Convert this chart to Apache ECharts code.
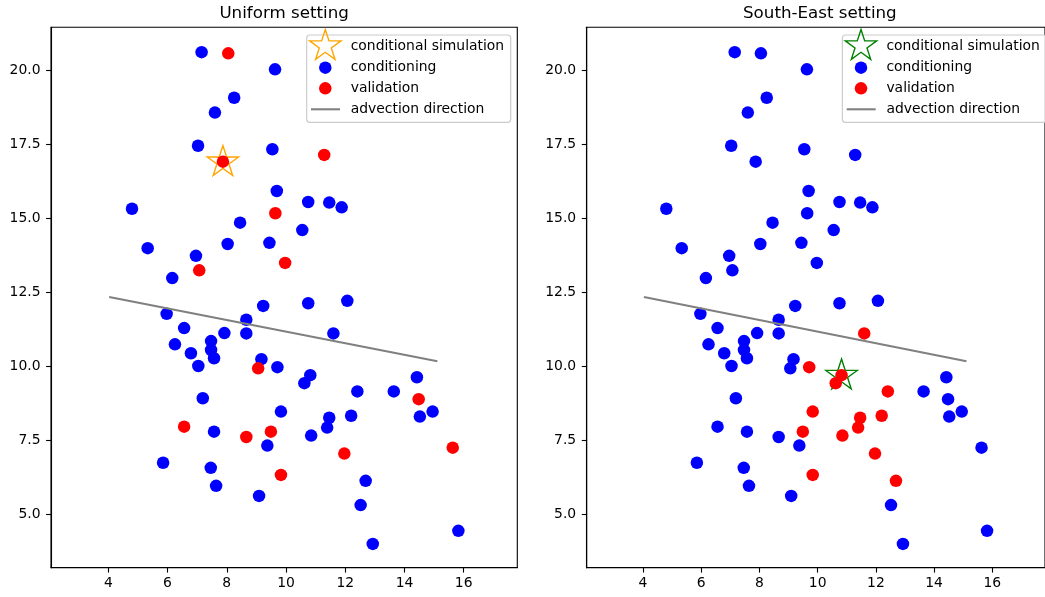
<!DOCTYPE html>
<html><head><meta charset="utf-8">
<script src="https://cdn.jsdelivr.net/npm/echarts@6/dist/echarts.min.js"></script>
<style>html,body{margin:0;padding:0;background:#fff}#c{width:1045px;height:597px}</style>
</head><body><div id="c"></div><script>
// ---- data ----
const xTicks = [4, 6, 8, 10, 12, 14, 16];
const yTicks = [5, 7.5, 10, 12.5, 15, 17.5, 20];
const panelTitles = ['Uniform setting', 'South-East setting'];
const legendLabels = ['conditional simulation', 'conditioning', 'validation', 'advection direction'];

const uniformStar = [[7.87, 16.89]];
const uniformConditioning = [
  [7.15,20.60],[9.63,20.02],[8.25,19.06],[7.60,18.56],[7.03,17.44],[9.54,17.32],[9.69,15.91],
  [4.80,15.31],[10.75,15.54],[11.46,15.52],[11.88,15.36],[8.45,14.84],[10.55,14.59],[5.33,13.98],
  [8.03,14.12],[9.44,14.16],[6.96,13.72],[6.16,12.97],[9.23,12.03],[10.75,12.12],[12.07,12.20],
  [5.97,11.76],[8.66,11.56],[6.56,11.28],[7.92,11.11],[8.66,11.10],[11.60,11.10],[6.25,10.73],
  [7.47,10.84],[7.47,10.54],[6.79,10.43],[7.57,10.26],[9.17,10.23],[7.04,10.00],[9.71,9.96],
  [10.82,9.69],[10.62,9.42],[7.19,8.91],[12.41,9.14],[13.64,9.14],[14.42,9.62],[14.95,8.46],
  [14.52,8.29],[9.83,8.46],[7.57,7.78],[9.37,7.31],[11.46,8.25],[11.39,7.92],[12.20,8.32],
  [10.85,7.65],[12.69,6.12],[5.85,6.73],[7.46,6.56],[7.64,5.95],[9.09,5.61],[12.52,5.30],
  [12.93,3.99],[15.82,4.43]
];
const uniformValidation = [
  [8.05,20.56],[7.87,16.90],[11.29,17.13],[9.64,15.16],[7.07,13.23],[9.97,13.48],[9.06,9.92],
  [14.48,8.88],[6.56,7.95],[8.66,7.60],[9.49,7.78],[11.97,7.04],[15.63,7.24],[9.83,6.32]
];

const southEastStar = [[10.82, 9.68]];
const southEastConditioning = [
  [7.15,20.60],[8.05,20.56],[9.63,20.02],[8.25,19.06],[7.60,18.56],[7.03,17.44],[7.87,16.90],
  [9.54,17.32],[11.29,17.13],[9.69,15.91],[9.64,15.16],[4.80,15.31],[10.75,15.54],[11.46,15.52],
  [11.88,15.36],[8.45,14.84],[10.55,14.59],[5.33,13.98],[8.03,14.12],[9.44,14.16],[6.96,13.72],
  [7.07,13.23],[9.97,13.48],[6.16,12.97],[9.23,12.03],[10.75,12.12],[12.07,12.20],[5.97,11.76],
  [8.66,11.56],[6.56,11.28],[7.92,11.11],[8.66,11.10],[6.25,10.73],[7.47,10.84],[7.47,10.54],
  [6.79,10.43],[7.57,10.26],[9.17,10.23],[7.04,10.00],[9.06,9.92],[7.19,8.91],[13.64,9.14],
  [14.42,9.62],[14.48,8.88],[14.95,8.46],[14.52,8.29],[6.56,7.95],[7.57,7.78],[8.66,7.60],
  [9.37,7.31],[15.63,7.24],[5.85,6.73],[7.46,6.56],[7.64,5.95],[9.09,5.61],[12.52,5.30],
  [12.93,3.99],[15.82,4.43]
];
const southEastValidation = [
  [11.60,11.10],[9.71,9.96],[10.82,9.69],[10.62,9.42],[12.41,9.14],[9.83,8.46],[9.49,7.78],
  [11.46,8.25],[11.39,7.92],[12.20,8.32],[10.85,7.65],[11.97,7.04],[9.83,6.32],[12.69,6.12]
];

const advectionLine = [[4.03, 12.33], [15.11, 10.16]];
// ------------------------------------------------

const STAR = 'path://M0,-100L22.45,-30.9L95.11,-30.9L36.33,11.8L58.78,80.9L0,38.2L-58.78,80.9L-36.33,11.8L-95.11,-30.9L-22.45,-30.9Z';
const STAR_PTS = [[0,-100],[22.45,-30.9],[95.11,-30.9],[36.33,11.8],[58.78,80.9],[0,38.2],[-58.78,80.9],[-36.33,11.8],[-95.11,-30.9],[-22.45,-30.9]];
const STAR_R = 16.5;
const STAR_W = 1.902 * STAR_R, STAR_H = 1.809 * STAR_R;
const FONT = 'DejaVu Sans';
const X_MIN = 2.065, X_MAX = 17.81, Y_MIN = 3.186, Y_MAX = 21.44;
const grids = [
  {left: 51, top: 27.3, width: 466.3, height: 540.4},
  {left: 586.7, top: 27.3, width: 466.3, height: 540.4}
];
const starColors = ['#ffa500', '#008000'];
const panels = [
  {star: uniformStar, cond: uniformConditioning, val: uniformValidation},
  {star: southEastStar, cond: southEastConditioning, val: southEastValidation}
];

const option = {
  animation: false,
  backgroundColor: '#fff',
  title: panelTitles.map((t, i) => ({
    text: t, left: grids[i].left + grids[i].width / 2, top: 5, padding: 0, textAlign: 'center',
    textStyle: {fontSize: 16.7, fontWeight: 'normal', color: '#000', fontFamily: FONT}
  })),
  grid: grids.map(g => Object.assign({show: true, borderColor: '#000', borderWidth: 1.1, backgroundColor: 'transparent'}, g)),
  xAxis: grids.map((g, i) => ({
    type: 'value', gridIndex: i, min: X_MIN, max: X_MAX,
    axisLine: {show: true, onZero: false, lineStyle: {color: '#000', width: 1.1}},
    axisTick: {show: true, length: 4.9, lineStyle: {color: '#000', width: 1.1}, customValues: xTicks},
    axisLabel: {margin: 8.5, fontSize: 13.9, color: '#000', fontFamily: FONT, customValues: xTicks},
    splitLine: {show: false}
  })),
  yAxis: grids.map((g, i) => ({
    type: 'value', gridIndex: i, min: Y_MIN, max: Y_MAX,
    axisLine: {show: true, onZero: false, lineStyle: {color: '#000', width: 1.1}},
    axisTick: {show: true, length: 4.9, lineStyle: {color: '#000', width: 1.1}, customValues: yTicks},
    axisLabel: {margin: 10.5, fontSize: 13.9, color: '#000', fontFamily: FONT, customValues: yTicks,
      formatter: v => Number(v).toFixed(1)},
    splitLine: {show: false}
  })),
  series: [],
  graphic: []
};

panels.forEach((p, i) => {
  option.series.push(
    {type: 'scatter', name: legendLabels[0], xAxisIndex: i, yAxisIndex: i, data: p.star, silent: true,
     symbol: STAR, symbolSize: [STAR_W, STAR_H], symbolOffset: [0, -1.5], z: 1,
     itemStyle: {color: 'rgba(0,0,0,0)', borderColor: starColors[i], borderWidth: 1.39, opacity: 1}},
    {type: 'scatter', name: legendLabels[1], xAxisIndex: i, yAxisIndex: i, data: p.cond, silent: true,
     symbol: 'circle', symbolSize: 12.5, z: 2, itemStyle: {color: '#0000ff', opacity: 1}},
    {type: 'scatter', name: legendLabels[2], xAxisIndex: i, yAxisIndex: i, data: p.val, silent: true,
     symbol: 'circle', symbolSize: 12.5, z: 3, itemStyle: {color: '#ff0000', opacity: 1}},
    {type: 'line', name: legendLabels[3], xAxisIndex: i, yAxisIndex: i, data: advectionLine, silent: true,
     showSymbol: false, z: 4, lineStyle: {color: '#808080', width: 2.08}}
  );
  // legend box (matplotlib style, upper right)
  const dx = grids[i].left - grids[0].left;
  const bx = 306.7 + dx, by = 35;
  const rows = [46, 67.7, 88.3, 109.3];
  const hx = bx + 18.6, tx = bx + 44;
  const s = STAR_R / 100;
  option.graphic.push(
    {type: 'rect', z: 100, shape: {x: bx, y: by, width: 204, height: 87.3, r: 3},
     style: {fill: 'rgba(255,255,255,0.8)', stroke: '#cccccc', lineWidth: 1.2}},
    {type: 'polygon', z: 101, shape: {points: STAR_PTS.map(q => [hx + q[0] * s, rows[0] + q[1] * s])},
     style: {fill: 'none', stroke: starColors[i], lineWidth: 1.39}},
    {type: 'circle', z: 101, shape: {cx: hx, cy: rows[1], r: 6.25}, style: {fill: '#0000ff'}},
    {type: 'circle', z: 101, shape: {cx: hx, cy: rows[2], r: 6.25}, style: {fill: '#ff0000'}},
    {type: 'line', z: 101, shape: {x1: bx + 4.3, y1: rows[3], x2: bx + 33.3, y2: rows[3]},
     style: {stroke: '#808080', lineWidth: 2.08}}
  );
  legendLabels.forEach((lab, k) => {
    option.graphic.push({type: 'text', z: 101, x: tx, y: rows[k],
      style: {text: lab, fontSize: 13.9, fontFamily: FONT, fill: '#000', align: 'left', verticalAlign: 'middle'}});
  });
});

const chart = echarts.init(document.getElementById('c'), null, {renderer: 'canvas'});
chart.setOption(option);
</script></body></html>
